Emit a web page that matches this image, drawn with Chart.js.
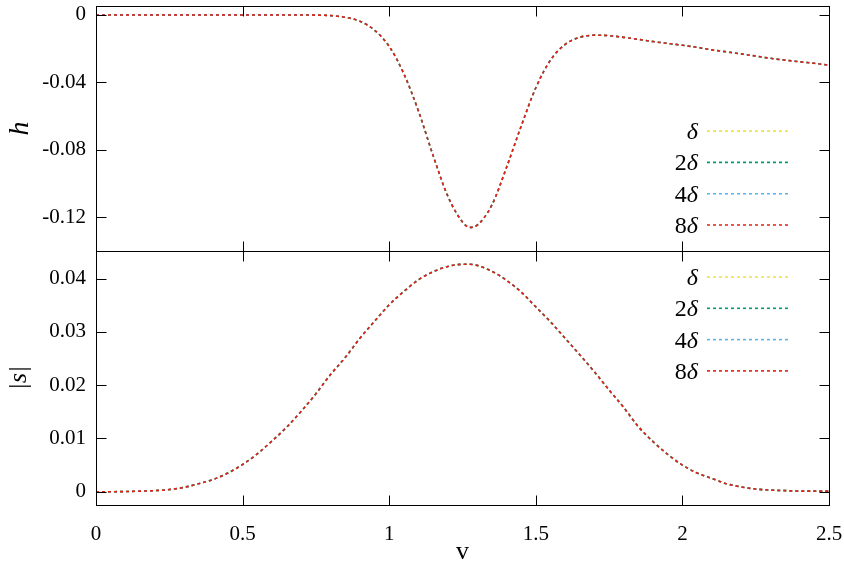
<!DOCTYPE html>
<html>
<head>
<meta charset="utf-8">
<script src="https://cdn.jsdelivr.net/npm/chart.js@4.4.1/dist/chart.umd.min.js"></script>
<style>
  html, body { margin: 0; padding: 0; background: #fff; }
  #wrap { width: 844px; height: 577px; }
</style>
</head>
<body>
<div id="wrap"><canvas id="chart" width="844" height="577"></canvas></div>
<script>
// v values (x axis)
const vValues = [0, 0.05, 0.1, 0.15, 0.2, 0.25, 0.3, 0.35, 0.4, 0.45, 0.5, 0.55, 0.6, 0.65, 0.7, 0.75,
  0.8, 0.85, 0.9, 0.95, 1.0, 1.05, 1.1, 1.15, 1.2, 1.25, 1.275, 1.3, 1.35, 1.4, 1.45, 1.5, 1.55, 1.6,
  1.65, 1.7, 1.75, 1.8, 1.85, 1.9, 1.95, 2.0, 2.05, 2.1, 2.15, 2.2, 2.25, 2.3, 2.35, 2.4, 2.45, 2.5];

// h (top panel)
const hValues = [0, 0, 0, 0, 0, 0, 0, 0, 0, 0, 0, 0, 0, 0, 0, -0.0001,
  -0.0004, -0.0014, -0.0037, -0.0090, -0.0187, -0.0349, -0.0571, -0.0835, -0.1075, -0.1228, -0.1260, -0.1247, -0.1128, -0.0905, -0.0660, -0.0432, -0.0268, -0.0175,
  -0.0133, -0.0120, -0.0123, -0.0133, -0.0145, -0.0158, -0.0169, -0.0180, -0.0192, -0.0207, -0.0219, -0.0231, -0.0244, -0.0257, -0.0268, -0.0278, -0.0287, -0.0298];

// |s| (bottom panel)
const sValues = [0, 0, 0.00002, 0.0001, 0.0002, 0.0004, 0.0008, 0.0015, 0.0023, 0.0035, 0.0051, 0.0071, 0.0095, 0.0121, 0.0151, 0.0184,
  0.0220, 0.0252, 0.0288, 0.0320, 0.0351, 0.0376, 0.0398, 0.0413, 0.0423, 0.0427, 0.0427, 0.0425, 0.0414, 0.0397, 0.0375, 0.0347, 0.0319, 0.0288,
  0.0257, 0.0225, 0.0191, 0.0158, 0.0122, 0.0094, 0.0070, 0.0050, 0.0035, 0.0025, 0.0015, 0.0009, 0.0005, 0.0003, 0.0002, 0.0001, 0.0001, 0.0001];

const stepFactors = ["", "2", "4", "8"];   // legend: δ, 2δ, 4δ, 8δ
const stepColors = ["#f0e442", "#009e73", "#56b4e9", "#e51e10"];

const xTicks = [0, 0.5, 1, 1.5, 2, 2.5];
const hTicks = [0, -0.04, -0.08, -0.12];
const sTicks = [0, 0.01, 0.02, 0.03, 0.04];

const FONT = '"Liberation Serif", "DejaVu Serif", serif';

function makeSets(values, axisId) {
  return stepFactors.map((f, i) => ({
    label: f + "δ",
    data: vValues.map((v, k) => ({ x: v, y: values[k] })),
    yAxisID: axisId,
    borderColor: stepColors[i],
    borderWidth: 1.6,
    borderDash: [3, 3],
    pointRadius: 0,
    fill: false,
    cubicInterpolationMode: "monotone",
    order: stepFactors.length - i,   // 8δ (red) ends up on top
    row: i
  }));
}

/* frame + inward ticks on every side of both panels */
const framePlugin = {
  id: "frame",
  afterDatasetsDraw(chart) {
    const ctx = chart.ctx;
    const x = chart.scales.x;
    ctx.save();
    ctx.strokeStyle = "#000";
    ctx.lineWidth = 1;
    ctx.setLineDash([]);
    for (const id of ["yTop", "yBot"]) {
      const y = chart.scales[id];
      const L = Math.round(x.left) + 0.5, R = Math.round(x.right) + 0.5;
      const T = Math.round(y.top) + 0.5, B = Math.round(y.bottom) + 0.5;
      ctx.strokeRect(L, T, R - L, B - T);
      ctx.beginPath();
      for (const t of y.ticks) {
        const py = Math.round(y.getPixelForValue(t.value)) + 0.5;
        ctx.moveTo(L, py); ctx.lineTo(L + 10, py);
        ctx.moveTo(R, py); ctx.lineTo(R - 10, py);
      }
      for (const t of x.ticks) {
        const px = Math.round(x.getPixelForValue(t.value)) + 0.5;
        ctx.moveTo(px, T); ctx.lineTo(px, T + 10);
        ctx.moveTo(px, B); ctx.lineTo(px, B - 10);
      }
      ctx.stroke();
    }
    ctx.restore();
  }
};

/* one small legend per panel */
const legendPlugin = {
  id: "panelLegend",
  afterDatasetsDraw(chart) {
    const ctx = chart.ctx;
    const area = chart.chartArea;
    ctx.save();
    chart.data.datasets.forEach(ds => {
      const panel = chart.scales[ds.yAxisID];
      const y = ds.yAxisID === "yTop"
        ? panel.bottom - 26 - (3 - ds.row) * 31.3
        : panel.top + 26 + ds.row * 31.3;
      ctx.strokeStyle = ds.borderColor;
      ctx.lineWidth = ds.borderWidth;
      ctx.setLineDash(ds.borderDash);
      ctx.beginPath();
      ctx.moveTo(area.right - 122, y);
      ctx.lineTo(area.right - 41, y);
      ctx.stroke();

      const textRight = area.right - 131;
      ctx.fillStyle = "#000";
      ctx.textAlign = "right";
      ctx.textBaseline = "alphabetic";
      ctx.font = "italic 24px " + FONT;
      const wD = ctx.measureText("δ").width;
      ctx.fillText("δ", textRight, y + 8);
      const f = stepFactors[ds.row];
      if (f) {
        ctx.font = "24px " + FONT;
        ctx.fillText(f, textRight - wD, y + 8);
      }
    });
    ctx.restore();
  }
};

const tickFont = { family: FONT, size: 21 };

new Chart(document.getElementById("chart"), {
  type: "line",
  data: {
    datasets: makeSets(hValues, "yTop").concat(makeSets(sValues, "yBot"))
  },
  options: {
    responsive: false,
    animation: false,
    layout: { padding: { left: 0, right: 15, top: 6, bottom: 0 } },
    plugins: { legend: { display: false }, tooltip: { enabled: false } },
    scales: {
      x: {
        type: "linear",
        min: 0,
        max: 2.5,
        afterBuildTicks: s => { s.ticks = xTicks.map(v => ({ value: v })); },
        afterFit: s => { s.height = 72; s.paddingLeft = 0; s.paddingRight = 0; },
        grid: { display: false, drawTicks: false },
        border: { display: false },
        ticks: { font: tickFont, color: "#000", padding: 17, maxRotation: 0, callback: v => String(v) },
        title: { display: true, text: "v", font: { family: FONT, size: 26 }, color: "#000", padding: { top: 0, bottom: 9 } }
      },
      yTop: {
        type: "linear",
        position: "left",
        stack: "panels",
        stackWeight: 245,
        weight: 2,
        min: -0.14,
        max: 0.0053,
        afterBuildTicks: s => { s.ticks = hTicks.map(v => ({ value: v })); },
        afterFit: s => { s.width = 96; s.paddingTop = 0; s.paddingBottom = 0; },
        grid: { display: false, drawTicks: false },
        border: { display: false },
        ticks: { font: tickFont, color: "#000", padding: 10, callback: v => String(v) },
        title: { display: true, text: "h", font: { family: FONT, size: 28, style: "italic" }, color: "#000", padding: { top: 4, bottom: 0 } }
      },
      yBot: {
        type: "linear",
        position: "left",
        stack: "panels",
        stackWeight: 254,
        weight: 1,
        min: -0.0025,
        max: 0.0452,
        afterBuildTicks: s => { s.ticks = sTicks.map(v => ({ value: v })); },
        afterFit: s => { s.width = 96; s.paddingTop = 0; s.paddingBottom = 0; },
        grid: { display: false, drawTicks: false },
        border: { display: false },
        ticks: { font: tickFont, color: "#000", padding: 10, callback: v => String(v) },
        title: { display: true, text: "|s|", font: { family: FONT, size: 26, style: "italic" }, color: "#000", padding: { top: 4, bottom: 0 } }
      }
    }
  },
  plugins: [framePlugin, legendPlugin]
});
</script>
</body>
</html>
